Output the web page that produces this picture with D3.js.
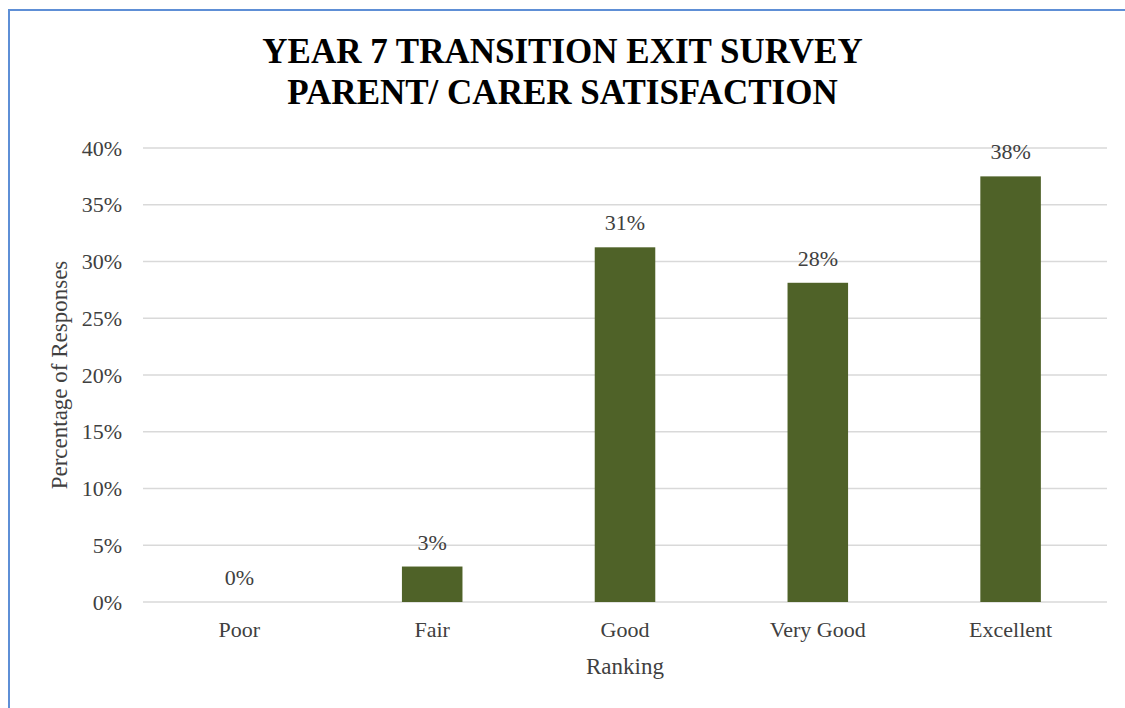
<!DOCTYPE html>
<html>
<head>
<meta charset="utf-8">
<script src="https://cdn.jsdelivr.net/npm/d3@7"></script>
<style>
  body { margin: 0; background: #fff; }
  text { font-family: "Liberation Serif", "DejaVu Serif", serif; }
</style>
</head>
<body>
<script>
// chart data
const rankings = ["Poor", "Fair", "Good", "Very Good", "Excellent"];
const percentages = [0, 3.125, 31.25, 28.125, 37.5];
const yTicks = [0, 5, 10, 15, 20, 25, 30, 35, 40];
const titleLines = ["YEAR 7 TRANSITION EXIT SURVEY", "PARENT/ CARER SATISFACTION"];

const width = 1125;
const height = 708;
const margin = {top: 148, right: 18, bottom: 106, left: 143};

const svg = d3.select("body")
  .append("svg")
  .attr("width", width)
  .attr("height", height);

// outer chart frame (runs off the right/bottom of the picture)
svg.append("rect")
  .attr("x", 9)
  .attr("y", 10)
  .attr("width", width + 20)
  .attr("height", height + 20)
  .attr("fill", "white")
  .attr("stroke", "#5E8FD6")
  .attr("stroke-width", 2);

const x = d3.scaleBand()
  .domain(rankings)
  .range([margin.left, width - margin.right])
  .paddingInner(0.686)
  .paddingOuter(0.343);

const y = d3.scaleLinear()
  .domain([0, 40])
  .range([height - margin.bottom, margin.top]);

// gridlines
svg.append("g")
  .selectAll("line")
  .data(yTicks)
  .join("line")
    .attr("x1", margin.left)
    .attr("x2", width - margin.right)
    .attr("y1", d => y(d))
    .attr("y2", d => y(d))
    .attr("stroke", "#D9D9D9")
    .attr("stroke-width", 1.3);

// y axis labels
svg.append("g")
  .selectAll("text")
  .data(yTicks)
  .join("text")
    .attr("x", margin.left - 21)
    .attr("y", d => y(d))
    .attr("dy", "0.35em")
    .attr("text-anchor", "end")
    .attr("font-size", 22)
    .attr("fill", "#404040")
    .text(d => d + "%");

// bars
svg.append("g")
  .selectAll("rect")
  .data(rankings)
  .join("rect")
    .attr("x", d => x(d))
    .attr("width", x.bandwidth())
    .attr("y", (d, i) => y(percentages[i]))
    .attr("height", (d, i) => y(0) - y(percentages[i]))
    .attr("fill", "#4F6228");

// value labels
svg.append("g")
  .selectAll("text")
  .data(rankings)
  .join("text")
    .attr("x", d => x(d) + x.bandwidth() / 2)
    .attr("y", (d, i) => y(percentages[i]) - 17)
    .attr("text-anchor", "middle")
    .attr("font-size", 22)
    .attr("fill", "#404040")
    .text((d, i) => Math.round(percentages[i]) + "%");

// category labels
svg.append("g")
  .selectAll("text")
  .data(rankings)
  .join("text")
    .attr("x", d => x(d) + x.bandwidth() / 2)
    .attr("y", 637)
    .attr("text-anchor", "middle")
    .attr("font-size", 22)
    .attr("fill", "#404040")
    .text(d => d);

// axis titles
svg.append("text")
  .attr("x", (margin.left + width - margin.right) / 2)
  .attr("y", 674)
  .attr("text-anchor", "middle")
  .attr("font-size", 23)
  .attr("fill", "#404040")
  .text("Ranking");

svg.append("text")
  .attr("transform", "translate(67,375) rotate(-90)")
  .attr("text-anchor", "middle")
  .attr("font-size", 23)
  .attr("fill", "#404040")
  .text("Percentage of Responses");

// title
svg.append("g")
  .selectAll("text")
  .data(titleLines)
  .join("text")
    .attr("x", width / 2)
    .attr("y", (d, i) => 63 + i * 41)
    .attr("text-anchor", "middle")
    .attr("font-size", 35)
    .attr("font-weight", "bold")
    .attr("fill", "black")
    .text(d => d);
</script>
</body>
</html>
